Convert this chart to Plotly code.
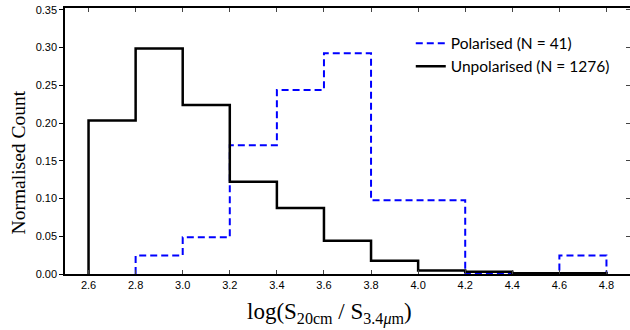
import plotly.graph_objects as go

bin_edges = [2.6, 2.8, 3.0, 3.2, 3.4, 3.6, 3.8, 4.0, 4.2, 4.4, 4.6, 4.8]
unpol_vals = [0.2035, 0.2988, 0.2238, 0.1222, 0.0876, 0.0440, 0.0176, 0.0048, 0.0030, 0.0010, 0.0010]
pol_edges = [2.8, 3.0, 3.2, 3.4, 3.6, 3.8, 4.0, 4.2, 4.4, 4.6, 4.8]
pol_vals = [0.0244, 0.0488, 0.1707, 0.2439, 0.2927, 0.0976, 0.0976, 0.0, 0.0, 0.0244]
x_ticks = [2.6, 2.8, 3.0, 3.2, 3.4, 3.6, 3.8, 4.0, 4.2, 4.4, 4.6, 4.8]
y_ticks = [0.0, 0.05, 0.10, 0.15, 0.20, 0.25, 0.30, 0.35]


def step_xy(edges, vals):
    xs = [edges[0]] + list(edges[:-1]) + [edges[-1], edges[-1]]
    ys = [0] + list(vals) + [vals[-1], 0]
    return xs, ys


fig = go.Figure()
bx, by = step_xy(pol_edges, pol_vals)
fig.add_trace(go.Scatter(x=bx, y=by, mode="lines", line_shape="hv",
                         line=dict(color="#0000ff", width=2, dash="7px,4px"),
                         name="Polarised (N = 41)"))
kx, ky = step_xy(bin_edges, unpol_vals)
fig.add_trace(go.Scatter(x=kx, y=ky, mode="lines", line_shape="hv",
                         line=dict(color="black", width=2.5),
                         name="Unpolarised (N = 1276)"))
# invisible trace for right axis
fig.add_trace(go.Scatter(x=[2.5], y=[0], yaxis="y2", mode="markers",
                         marker=dict(opacity=0), showlegend=False, hoverinfo="skip"))

tickfont = dict(family="Liberation Sans, Arial, sans-serif", size=11, color="black")
serif = "Liberation Serif, Times New Roman, serif"
fig.update_layout(
    width=630, height=330,
    margin=dict(l=65, r=0, t=8, b=56),
    paper_bgcolor="white", plot_bgcolor="white",
    xaxis=dict(range=[2.5, 4.9], tickvals=x_ticks, ticktext=[f"{v:.1f}" for v in x_ticks],
               ticks="inside", ticklen=4, tickwidth=1, tickcolor="#444",
               showline=True, linecolor="black", linewidth=1.5, mirror="ticks",
               showgrid=False, zeroline=False, tickfont=tickfont),
    yaxis=dict(range=[0, 0.3525], tickvals=y_ticks, ticktext=[f"{v:.2f}" for v in y_ticks],
               ticks="outside", ticklen=4, tickwidth=1, tickcolor="black",
               showline=True, linecolor="black", linewidth=1.5, mirror=False,
               showgrid=False, zeroline=False, tickfont=tickfont),
    yaxis2=dict(range=[0, 0.3525], tickvals=y_ticks, overlaying="y", side="right",
                ticks="inside", ticklen=4, tickwidth=1, tickcolor="#444",
                showticklabels=False, showgrid=False, zeroline=False, showline=False),
    legend=dict(x=0.612, y=0.93, xanchor="left", yanchor="top",
                bgcolor="rgba(0,0,0,0)", borderwidth=0,
                font=dict(family="Lato, Open Sans, sans-serif", size=15.5, color="black"),
                tracegroupgap=0),
    showlegend=True,
    annotations=[
        dict(text="log(S<sub>20cm</sub> / S<sub>3.4<i>μ</i>m</sub>)", xref="paper", yref="paper",
             x=0.469, y=-0.147, xanchor="center", yanchor="middle", showarrow=False,
             font=dict(family=serif, size=23, color="black")),
        dict(text="Normalised Count", xref="paper", yref="paper", textangle=-90,
             x=-0.083, y=0.42, xanchor="center", yanchor="middle", showarrow=False,
             font=dict(family=serif, size=19.5, color="black")),
    ],
)

fig.write_html("out.html")
